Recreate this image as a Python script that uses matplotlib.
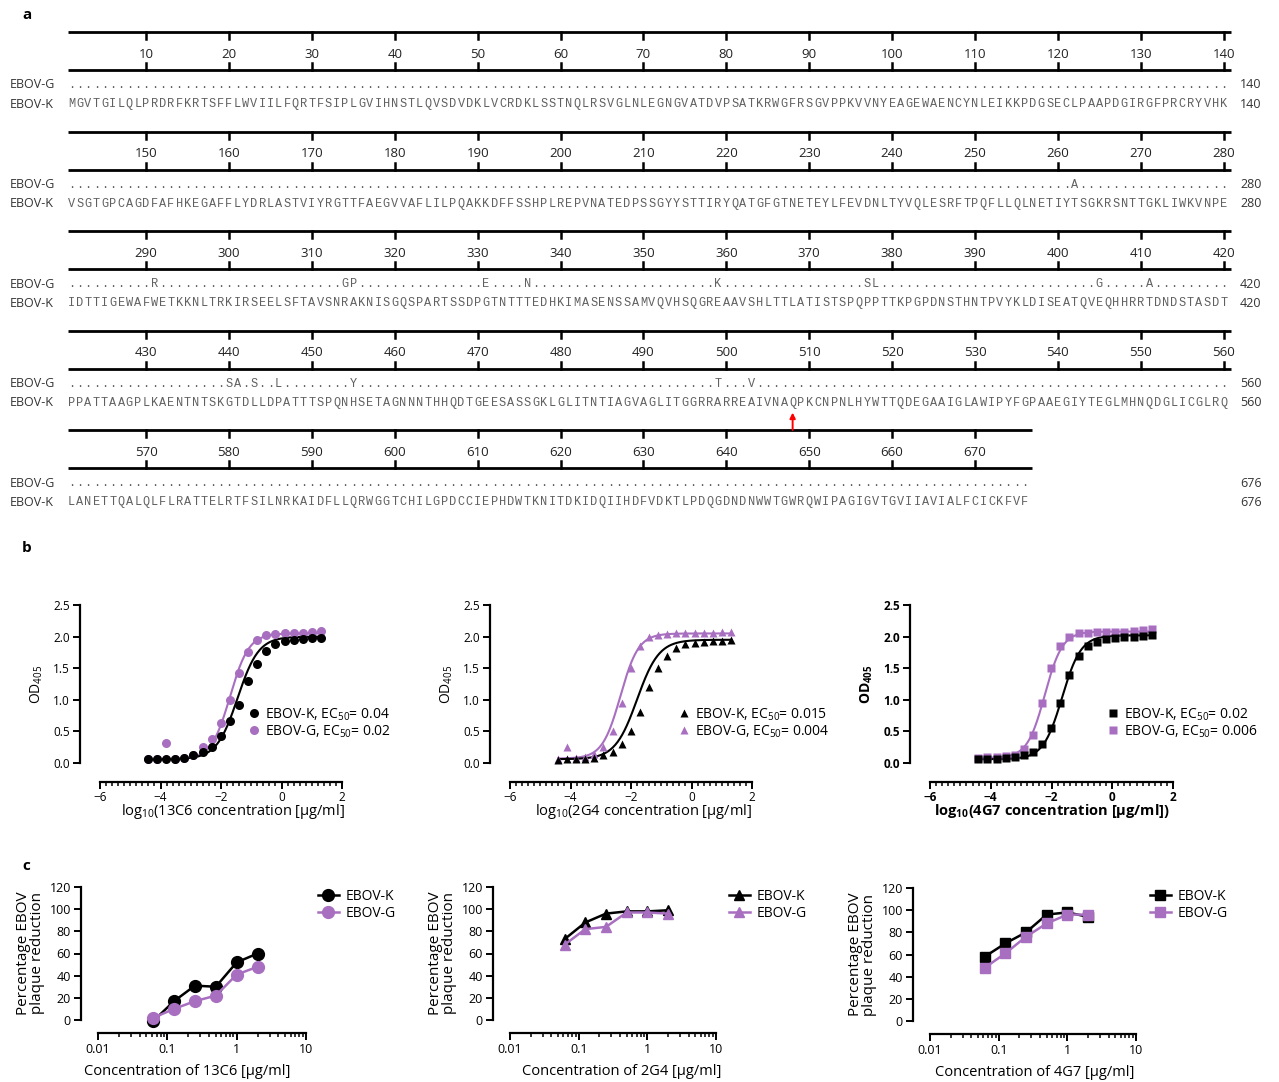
import numpy as np
import matplotlib.pyplot as plt
from matplotlib.ticker import MultipleLocator, FixedLocator, LogLocator, NullFormatter, FormatStrFormatter

plt.rcParams['font.family'] = ['Open Sans', 'DejaVu Sans']
plt.rcParams['mathtext.default'] = 'regular'

# ---------------- data: panel a (GP alignment) ----------------
seq_k = ("MGVTGILQLPRDRFKRTSFFLWVIILFQRTFSIPLGVIHNSTLQVSDVDKLVCRDKLSSTNQLRSVGLN"
         "LEGNGVATDVPSATKRWGFRSGVPPKVVNYEAGEWAENCYNLEIKKPDGSECLPAAPDGIRGFPRCRYVHK"
         "VSGTGPCAGDFAFHKEGAFFLYDRLASTVIYRGTTFAEGVVAFLILPQAKKDFFSSHPLREPVNATEDP"
         "SSGYYSTTIRYQATGFGTNETEYLFEVDNLTYVQLESRFTPQFLLQLNETIYTSGKRSNTTGKLIWKVNPE"
         "IDTTIGEWAFWETKKNLTRKIRSEELSFTAVSNRAKNISGQSPARTSSDPGTNTTTEDHKIMASENSSA"
         "MVQVHSQGREAAVSHLTTLATISTSPQPPTTKPGPDNSTHNTPVYKLDISEATQVEQHHRRTDNDSTASDT"
         "PPATTAAGPLKAENTNTSKGTDLLDPATTTSPQNHSETAGNNNTHHQDTGEESASSGKLGLITNTIAGV"
         "AGLITGGRRARREAIVNAQPKCNPNLHYWTTQDEGAAIGLAWIPYFGPAAEGIYTEGLMHNQDGLICGLRQ"
         "LANETTQALQLFLRATTELRTFSILNRKAIDFLLQRWGGTCHILGPDCCIEPHDWTKNITDKIDQIIHD"
         "FVDKTLPDQGDNDNWWTGWRQWIPAGIGVTGVIIAVIALFCICKFVF")
# positions where EBOV-G differs from EBOV-K
g_diff = {262: 'A', 291: 'R', 314: 'G', 315: 'P', 331: 'E', 336: 'N',
          359: 'K', 377: 'S', 378: 'L', 405: 'G', 411: 'A',
          440: 'S', 441: 'A', 443: 'S', 446: 'L', 455: 'Y', 499: 'T', 503: 'V'}
cleavage_site = 508

# ---------------- data: panel b (ELISA) ----------------
log_conc = [-4.41, -4.11, -3.81, -3.51, -3.21, -2.91, -2.61, -2.31, -2.01, -1.71,
            -1.41, -1.11, -0.81, -0.51, -0.20, 0.10, 0.40, 0.70, 1.00, 1.30]
od_13c6_k = [0.06, 0.06, 0.06, 0.07, 0.08, 0.12, 0.18, 0.25, 0.42, 0.66,
             0.92, 1.30, 1.57, 1.78, 1.88, 1.93, 1.95, 1.96, 1.97, 1.98]
od_13c6_g = [0.06, 0.07, 0.32, 0.07, 0.08, 0.12, 0.26, 0.38, 0.63, 1.00,
             1.42, 1.76, 1.95, 2.03, 2.04, 2.05, 2.06, 2.06, 2.07, 2.09]
od_2g4_k = [0.05, 0.06, 0.06, 0.07, 0.08, 0.12, 0.18, 0.30, 0.50, 0.80,
            1.20, 1.50, 1.70, 1.82, 1.88, 1.90, 1.92, 1.93, 1.93, 1.94]
od_2g4_g = [0.06, 0.25, 0.08, 0.10, 0.14, 0.25, 0.50, 0.95, 1.50, 1.85,
            2.00, 2.03, 2.04, 2.05, 2.05, 2.05, 2.06, 2.06, 2.07, 2.08]
od_4g7_k = [0.06, 0.07, 0.07, 0.08, 0.09, 0.12, 0.18, 0.30, 0.55, 0.95,
            1.40, 1.70, 1.85, 1.92, 1.96, 1.98, 1.99, 2.00, 2.01, 2.02]
od_4g7_g = [0.08, 0.09, 0.10, 0.11, 0.12, 0.22, 0.45, 0.95, 1.50, 1.85,
            2.00, 2.05, 2.06, 2.07, 2.07, 2.08, 2.08, 2.09, 2.10, 2.12]
# four-parameter logistic fits: bottom, top, logEC50, hill
fit_13c6_k = (0.06, 2.00, -1.45, 1.25)
fit_13c6_g = (0.06, 2.05, -1.70, 1.40)
fit_2g4_k = (0.06, 1.95, -1.80, 1.20)
fit_2g4_g = (0.07, 2.05, -2.35, 1.45)
fit_4g7_k = (0.06, 2.02, -1.65, 1.40)
fit_4g7_g = (0.08, 2.08, -2.22, 1.50)
ec50_k = ['0.04', '0.015', '0.02']
ec50_g = ['0.02', '0.004', '0.006']
mab_names = ['13C6', '2G4', '4G7']

# ---------------- data: panel c (plaque reduction) ----------------
conc = [0.0625, 0.125, 0.25, 0.5, 1, 2]
prnt_13c6_k = [-1, 17, 31, 30, 52, 60]
prnt_13c6_g = [2, 10, 17, 22, 41, 48]
prnt_2g4_k = [73, 88, 96, 98, 98, 99]
prnt_2g4_g = [68, 82, 84, 97, 97, 96]
prnt_4g7_k = [58, 70, 80, 96, 98, 94]
prnt_4g7_g = [48, 61, 76, 88, 96, 96]

purple = '#a86fc0'
W, H = 1279, 1082
fig = plt.figure(figsize=(W / 100, H / 100), dpi=100)

# ---------------- panel a ----------------
ax_a = fig.add_axes([0, 0, 1, 1])
ax_a.set_xlim(0, W)
ax_a.set_ylim(H, 0)
ax_a.axis('off')

x0, dx, row_len = 71.4, 8.29, 140
seq_gray = '#606060'
for r in range(5):
    start = r * row_len
    end = min(start + row_len, len(seq_k))
    n = end - start
    yb = 32 + r * 99.6
    xl = x0 - 0.4 * dx
    xr = x0 + (n - 1) * dx + 0.85 * dx
    for yy in (yb, yb + 38):
        ax_a.plot([xl, xr], [yy, yy], color='black', lw=2, solid_capstyle='butt')
    for t in range(10, n + 1, 10):
        xt = x0 + (t - 1) * dx
        ax_a.plot([xt, xt], [yb, yb + 7], color='black', lw=1.8)
        ax_a.plot([xt, xt], [yb + 31, yb + 38], color='black', lw=1.8)
        ax_a.text(xt, yb + 22, str(start + t), ha='center', va='center',
                  fontsize=9.5, color='#222222')
    yg, yk = yb + 53, yb + 72
    ax_a.text(10, yg, 'EBOV-G', ha='left', va='center', fontsize=9, color='#333333')
    ax_a.text(10, yk, 'EBOV-K', ha='left', va='center', fontsize=9, color='#333333')
    for i in range(n):
        pos = start + i + 1
        xc = x0 + i * dx
        ax_a.text(xc, yk, seq_k[pos - 1], ha='center', va='center',
                  fontsize=8.6, family='Liberation Mono', color=seq_gray)
        ch = g_diff.get(pos, '.')
        ax_a.text(xc, yg, ch, ha='center', va='center',
                  fontsize=8.6, family='Liberation Mono', color=seq_gray)
    ax_a.text(1240, yg, str(end), ha='left', va='center', fontsize=9, color='#333333')
    ax_a.text(1240, yk, str(end), ha='left', va='center', fontsize=9, color='#333333')
    if start < cleavage_site <= end:
        xc = x0 + (cleavage_site - start - 1) * dx
        ax_a.annotate('', xy=(xc, yk + 7), xytext=(xc, yk + 30),
                      arrowprops=dict(arrowstyle='-|>', color='red', lw=1.4,
                                      mutation_scale=8))

for lab, yy in (('a', 15), ('b', 548), ('c', 866)):
    ax_a.text(22, yy, lab, ha='left', va='center', fontsize=11, fontweight='bold')


def px_axes(l, t, r, b):
    return fig.add_axes([l / W, 1 - b / H, (r - l) / W, (b - t) / H])


def style_axes(ax, left_off, bottom_off, labelsize):
    for s in ('top', 'right'):
        ax.spines[s].set_visible(False)
    ax.spines['left'].set_position(('outward', left_off))
    ax.spines['bottom'].set_position(('outward', bottom_off))
    for s in ('left', 'bottom'):
        ax.spines[s].set_linewidth(1.6)
    ax.tick_params(which='major', length=5, width=1.4, labelsize=labelsize, pad=2)
    ax.tick_params(which='minor', length=3, width=1.1)
    ax.patch.set_alpha(0)


def logistic(p, x):
    b, t, lec, h = p
    return b + (t - b) / (1 + 10 ** ((lec - x) * h))


# ---------------- panel b ----------------
b_rects = [(100, 605, 342, 763), (510, 605, 752, 763), (930, 605, 1173, 763)]
b_k = [od_13c6_k, od_2g4_k, od_4g7_k]
b_g = [od_13c6_g, od_2g4_g, od_4g7_g]
b_fk = [fit_13c6_k, fit_2g4_k, fit_4g7_k]
b_fg = [fit_13c6_g, fit_2g4_g, fit_4g7_g]
b_markers = ['o', '^', 's']
b_leg_x = [248, 678, 1107]
b_xlab_pos = [0.55, 0.55, 0.5]
xfit = np.linspace(log_conc[0], log_conc[-1], 300)
for i in range(3):
    ax = px_axes(*b_rects[i])
    style_axes(ax, 14.5, 13.5, 8.5)
    m = b_markers[i]
    ms = 6.5 if m == 'o' else 6
    ax.plot(xfit, logistic(b_fg[i], xfit), color=purple, lw=1.5, zorder=2)
    ax.plot(xfit, logistic(b_fk[i], xfit), color='black', lw=1.5, zorder=2)
    hg, = ax.plot(log_conc, b_g[i], m, color=purple, ms=ms, mec='none', zorder=3, clip_on=False)
    hk, = ax.plot(log_conc, b_k[i], m, color='black', ms=ms, mec='none', zorder=4, clip_on=False)
    ax.set_xlim(-6, 2)
    ax.set_ylim(0, 2.5)
    ax.spines['left'].set_bounds(0, 2.5)
    ax.spines['bottom'].set_bounds(-6, 2)
    ax.yaxis.set_major_locator(MultipleLocator(0.5))
    ax.yaxis.set_major_formatter(FormatStrFormatter('%.1f'))
    ax.xaxis.set_major_locator(MultipleLocator(2))
    ax.xaxis.set_minor_locator(MultipleLocator(0.2))
    bold = 'bold' if i == 2 else 'normal'
    close = ')' if i == 2 else ''
    ax.set_ylabel('OD$_{405}$', fontsize=10, fontweight=bold, labelpad=6)
    ax.set_xlabel('log$_{10}$(' + mab_names[i] + ' concentration [\u00b5g/ml]' + close,
                  fontsize=10.5, fontweight=bold, labelpad=0)
    ax.xaxis.set_label_coords(b_xlab_pos[i], -0.245)
    if i == 2:
        for tl in ax.get_xticklabels() + ax.get_yticklabels():
            tl.set_fontweight('bold')
    ax.legend([hk, hg],
              ['EBOV-K, EC$_{50}$= ' + ec50_k[i], 'EBOV-G, EC$_{50}$= ' + ec50_g[i]],
              loc='center left', bbox_to_anchor=(b_leg_x[i] / W, 1 - 723 / H),
              bbox_transform=fig.transFigure, frameon=False, fontsize=10,
              handlelength=0.8, handletextpad=0.4, labelspacing=0.05,
              borderpad=0, borderaxespad=0)

# ---------------- panel c ----------------
c_rects = [(98, 887, 306, 1020), (510, 887, 716, 1020), (930, 888, 1136, 1021)]
c_k = [prnt_13c6_k, prnt_2g4_k, prnt_4g7_k]
c_g = [prnt_13c6_g, prnt_2g4_g, prnt_4g7_g]
c_leg_x = [318, 729, 1150]
c_xlab_pos = [0.43, 0.54, 0.51]
for i in range(3):
    ax = px_axes(*c_rects[i])
    style_axes(ax, 12.5, 9.5, 9)
    m = b_markers[i]
    ms = 8.5 if m == 'o' else 7.5
    hk, = ax.plot(conc, c_k[i], '-' + m, color='black', ms=ms, lw=1.8, zorder=3, clip_on=False)
    hg, = ax.plot(conc, c_g[i], '-' + m, color=purple, ms=ms, lw=1.8, zorder=4, clip_on=False)
    ax.set_xscale('log')
    ax.set_xlim(0.01, 10)
    ax.set_ylim(0, 120)
    ax.spines['left'].set_bounds(0, 120)
    ax.yaxis.set_major_locator(MultipleLocator(20))
    ax.xaxis.set_major_locator(FixedLocator([0.01, 0.1, 1, 10]))
    ax.xaxis.set_minor_locator(LogLocator(base=10, subs=np.arange(2, 10)))
    ax.xaxis.set_minor_formatter(NullFormatter())
    ax.set_xticklabels(['0.01', '0.1', '1', '10'])
    ax.set_ylabel('Percentage EBOV\nplaque reduction', fontsize=11, labelpad=3, linespacing=0.95)
    ax.set_xlabel('Concentration of ' + mab_names[i] + ' [\u00b5g/ml]', fontsize=10.5, labelpad=5)
    ax.xaxis.set_label_coords(c_xlab_pos[i], -0.33)
    ax.legend([hk, hg], ['EBOV-K', 'EBOV-G'],
              loc='center left', bbox_to_anchor=(c_leg_x[i] / W, 1 - 905 / H),
              bbox_transform=fig.transFigure, frameon=False, fontsize=10,
              handlelength=1.5, handletextpad=0.5, labelspacing=0.1,
              borderpad=0, borderaxespad=0)

fig.savefig('out.png', dpi=100)
